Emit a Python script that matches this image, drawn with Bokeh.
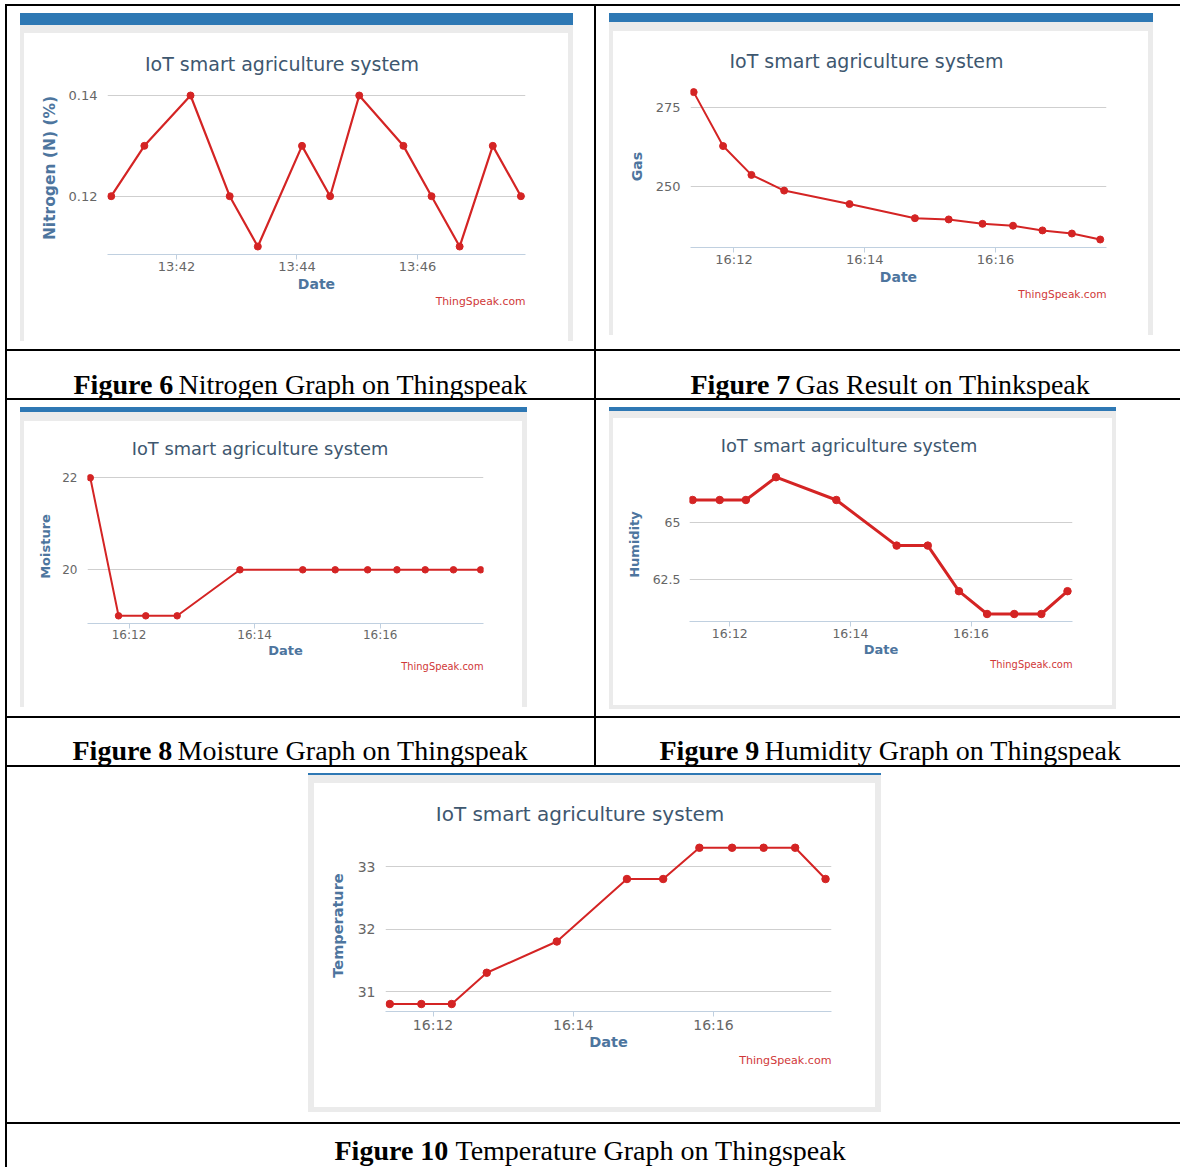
import pandas as pd
from bokeh.plotting import figure
from bokeh.models import (Label, Title, FixedTicker, DatetimeTickFormatter, Range1d,
                          CustomJSTickFormatter, Div, Spacer)
from bokeh.layouts import column, row
from bokeh.embed import file_html
from bokeh.resources import INLINE

DAY = "2019-07-10"

# ---------------- data ----------------
nitrogen_times = ["13:40:55", "13:41:28", "13:42:14", "13:42:53", "13:43:21", "13:44:05",
                  "13:44:33", "13:45:02", "13:45:46", "13:46:14", "13:46:42", "13:47:15", "13:47:43"]
nitrogen = [0.12, 0.13, 0.14, 0.12, 0.11, 0.13, 0.12, 0.14, 0.13, 0.12, 0.11, 0.13, 0.12]
nitrogen_xticks = ["13:42", "13:44", "13:46"]
nitrogen_yticks = [0.12, 0.14]

sensor_times = ["16:11:23", "16:11:50", "16:12:16", "16:12:46", "16:13:46", "16:14:46",
                "16:15:17", "16:15:48", "16:16:16", "16:16:43", "16:17:10", "16:17:36"]
sensor_xticks = ["16:12", "16:14", "16:16"]
gas = [280.0, 262.8, 253.6, 248.6, 244.3, 239.8, 239.4, 238.0, 237.4, 235.9, 234.9, 233.0]
gas_yticks = [250, 275]
moisture = [22, 19, 19, 19, 20, 20, 20, 20, 20, 20, 20, 20]
moisture_yticks = [20, 22]
humidity = [66, 66, 66, 67, 66, 64, 64, 62, 61, 61, 61, 62]
humidity_yticks = [62.5, 65]
temperature = [30.8, 30.8, 30.8, 31.3, 31.8, 32.8, 32.8, 33.3, 33.3, 33.3, 33.3, 32.8]
temperature_yticks = [31, 32, 33]

chart_title = "IoT smart agriculture system"
x_title = "Date"
credit_text = "ThingSpeak.com"
y_titles = ["Nitrogen (N) (%)", "Gas", "Moisture", "Humidity", "Temperature"]
caption_bold = ["Figure 6", "Figure 7", "Figure 8", "Figure 9", "Figure 10"]
caption_rest = ["Nitrogen Graph on Thingspeak", "Gas Result on Thinkspeak",
                "Moisture Graph on Thingspeak", "Humidity Graph on Thingspeak",
                "Temperature Graph on Thingspeak"]

# ---------------- style ----------------
FONT = "DejaVu Sans"
CAP_FONT = "Liberation Serif"
RED = "#d42424"
BLUE = "#2e78b4"
GRAY = "#ebebeb"
TITLE_C = "#3E576F"
AXT_C = "#4D759E"
TICK_C = "#666666"
CREDIT_C = "#D03838"


def ts(hms):
    return pd.Timestamp(f"{DAY} {hms}")


def ms(t):
    return t.value / 1e6


def block(w, h, color=None):
    if color is None:
        return Spacer(width=w, height=h, margin=0)
    return Div(text="", width=w, height=h, margin=0,
               styles={"background-color": color, "padding": "0", "margin": "0"})


def text_fig(w, h, labels):
    p = figure(width=w, height=h, x_range=Range1d(0, w), y_range=Range1d(h, 0),
               x_axis_location=None, y_axis_location=None, min_border=0,
               toolbar_location=None, output_backend="svg", title=None, frame_align=False,
               outline_line_color=None, background_fill_color="white",
               border_fill_color="white")
    p.xgrid.visible = False
    p.ygrid.visible = False
    for lab in labels:
        p.add_layout(lab)
    return p


def chart_fig(s, times, values, xticks, yticks, ylabel):
    wx0, wy0, wx1, sy1 = s["inner"]
    fl, ft, fr, fb = s["frame"]
    base = ts(xticks[0])
    x0 = base + pd.Timedelta(minutes=s["xr"][0])
    x1 = base + pd.Timedelta(minutes=s["xr"][1])
    p = figure(x_axis_type="datetime", output_backend="svg", toolbar_location=None, title=None,
               width=wx1 - wx0, height=sy1 - ft, frame_align=False,
               min_border_left=fl - wx0, min_border_right=wx1 - fr,
               min_border_top=0, min_border_bottom=sy1 - fb,
               x_range=Range1d(x0, x1), y_range=Range1d(*s["yr"]),
               background_fill_color="white", border_fill_color="white",
               outline_line_color=None)
    xa = p.xaxis[0]
    xa.ticker = FixedTicker(ticks=[ms(ts(t)) for t in xticks])
    xa.formatter = DatetimeTickFormatter(minutes="%H:%M", hourmin="%H:%M", hours="%H:%M",
                                         minsec="%H:%M", seconds="%H:%M")
    xa.axis_line_color = "#C0D0E0"
    xa.major_tick_line_color = "#C0D0E0"
    xa.minor_tick_line_color = None
    xa.major_tick_out = 5
    xa.major_tick_in = 0
    xa.major_label_standoff = int(s["xstand"])
    xa.major_label_text_font = FONT
    xa.major_label_text_font_size = f"{s['tick']}px"
    xa.major_label_text_color = TICK_C
    xa.axis_label = x_title
    xa.axis_label_text_font = FONT
    xa.axis_label_text_font_style = "bold"
    xa.axis_label_text_font_size = f"{s['axt']}px"
    xa.axis_label_text_color = AXT_C
    xa.axis_label_standoff = int(s["xlab"])
    ya = p.yaxis[0]
    ya.ticker = FixedTicker(ticks=yticks)
    ya.formatter = CustomJSTickFormatter(code="return tick.toString()")
    ya.axis_line_color = None
    ya.major_tick_line_color = None
    ya.minor_tick_line_color = None
    ya.major_tick_out = 0
    ya.major_tick_in = 0
    ya.major_label_standoff = int(s["ystand"])
    ya.major_label_text_font = FONT
    ya.major_label_text_font_size = f"{s['tick']}px"
    ya.major_label_text_color = TICK_C
    ya.axis_label = ylabel
    ya.axis_label_text_font = FONT
    ya.axis_label_text_font_style = "bold"
    ya.axis_label_text_font_size = f"{s.get('yaxt', s['axt'])}px"
    ya.axis_label_text_color = AXT_C
    ya.axis_label_standoff = int(s["ylab"])
    p.xgrid.grid_line_color = None
    p.ygrid.grid_line_color = "#cfcfcf"
    p.add_layout(Title(text=credit_text, align="right", vertical_align="top",
                       standoff=int(s["cstand"]), text_font=FONT,
                       text_font_size=f"{s['csz']}px", text_font_style="normal",
                       text_color=CREDIT_C), "below")
    xs = [ts(t) for t in times]
    p.line(xs, values, line_color=RED, line_width=s["lw"])
    p.scatter(xs, values, size=s["ms"], fill_color=RED, line_color=RED)
    return p


def chart_cell(s, times, values, xticks, yticks, ylabel):
    ox, oy, W, H = s["cell"]
    cx, cy = ox + 2, oy + 2
    Wc, Hc = W - 2, H - 2
    px0, px1 = s["panel_x"]
    by0, by1 = s["blue_y"]
    wx0, wy0, wx1, sy1 = s["inner"]
    fl, ft, fr, fb = s["frame"]
    gb = s["gray_bottom"]
    Wp = px1 - px0
    tx, ty, tsz = s["title"]
    tfig = text_fig(wx1 - wx0, ft - wy0, [
        Label(x=tx - wx0, y=ty - wy0, text=chart_title, text_align="center",
              text_baseline="middle", text_font=FONT, text_font_size=f"{tsz}px",
              text_color=TITLE_C)])
    cfig = chart_fig(s, times, values, xticks, yticks, ylabel)
    inner = column(tfig, cfig)
    stripes = row(block(wx0 - px0, sy1 - wy0, GRAY), inner, block(px1 - wx1, sy1 - wy0, GRAY))
    kids = [block(Wp, by1 - by0, BLUE), block(Wp, wy0 - by1, GRAY), stripes]
    if gb > 0:
        kids.append(block(Wp, gb, GRAY))
    rest = (oy + H) - (sy1 + gb)
    if rest > 0:
        kids.append(block(Wp, rest))
    panel = column(*kids)
    hrow = Hc - (by0 - cy)
    content = column(block(Wc, by0 - cy),
                     row(block(px0 - cx, hrow), panel, block(Wc - (px0 - cx) - Wp, hrow)))
    return column(block(W, 2, "black"), row(block(2, Hc, "black"), content))


def caption_cell(cell, bold, rest, xb, xr_, mid):
    ox, oy, W, H = cell
    cx, cy = ox + 2, oy + 2
    labs = [Label(x=xb - cx, y=mid - cy, text=bold, text_align="left",
                  text_baseline="middle", text_font=CAP_FONT, text_font_style="bold",
                  text_font_size="28px", text_color="black"),
            Label(x=xr_ - cx, y=mid - cy, text=rest, text_align="left",
                  text_baseline="middle", text_font=CAP_FONT, text_font_style="normal",
                  text_font_size="28px", text_color="black")]
    return column(block(W, 2, "black"), row(block(2, H - 2, "black"), text_fig(W - 2, H - 2, labs)))


S6 = dict(cell=(5, 4, 589, 345), panel_x=(20, 573), blue_y=(13, 25), inner=(24, 33, 568, 341),
          gray_bottom=0, frame=(107, 81, 525, 254),
          title=(281.5, 63, 19), csz=10.8, cstand=1, tick=13, axt=14, yaxt=15.5,
          xstand=-1, xlab=-1, ystand=10, ylab=7, lw=2.2, ms=7,
          xr=(-1.145, 5.793), yr=(0.10842, 0.14278))
S7 = dict(cell=(594, 4, 586, 345), panel_x=(609, 1153), blue_y=(13, 22), inner=(613, 31, 1148, 335),
          gray_bottom=0, frame=(690, 85, 1106, 247),
          title=(866, 60, 19), csz=10.6, cstand=0, tick=13, axt=14,
          xstand=-1, xlab=-1, ystand=10, ylab=8, lw=2, ms=7,
          xr=(-0.665, 5.696), yr=(230.45, 282.11))
S8 = dict(cell=(5, 398, 589, 318), panel_x=(20, 527), blue_y=(407, 412), inner=(24, 421, 522, 707),
          gray_bottom=0, frame=(87, 469, 483, 623),
          title=(259.5, 448.3, 17.8), csz=9.9, cstand=1, tick=12, axt=13,
          xstand=-1, xlab=-2, ystand=10, ylab=6, lw=2, ms=6.5,
          xr=(-0.661, 5.645), yr=(18.833, 22.18))
S9 = dict(cell=(594, 398, 586, 318), panel_x=(609, 1116), blue_y=(407, 411), inner=(613, 418, 1112, 705),
          gray_bottom=4, frame=(689, 467, 1072, 621),
          title=(848.5, 445, 17.8), csz=9.9, cstand=-1, tick=12.5, axt=13,
          xstand=-1, xlab=-2, ystand=9, ylab=8, lw=3, ms=7.5,
          xr=(-0.668, 5.683), yr=(60.671, 67.425))
S10 = dict(cell=(5, 765, 1175, 357), panel_x=(308, 881), blue_y=(773, 775), inner=(314, 783, 875, 1107),
           gray_bottom=5, frame=(385, 839, 831, 1011),
           title=(579.5, 813.3, 20), csz=11.1, cstand=2, tick=14, axt=14.5,
           xstand=0, xlab=-2, ystand=10, ylab=9, lw=2, ms=7.5,
           xr=(-0.678, 5.685), yr=(30.68, 33.432))

c6 = chart_cell(S6, nitrogen_times, nitrogen, nitrogen_xticks, nitrogen_yticks, y_titles[0])
c7 = chart_cell(S7, sensor_times, gas, sensor_xticks, gas_yticks, y_titles[1])
c8 = chart_cell(S8, sensor_times, moisture, sensor_xticks, moisture_yticks, y_titles[2])
c9 = chart_cell(S9, sensor_times, humidity, sensor_xticks, humidity_yticks, y_titles[3])
c10 = chart_cell(S10, sensor_times, temperature, sensor_xticks, temperature_yticks, y_titles[4])

cap6 = caption_cell((5, 349, 589, 49), caption_bold[0], caption_rest[0], 73, 178, 383.5)
cap7 = caption_cell((594, 349, 586, 49), caption_bold[1], caption_rest[1], 690, 795, 383.5)
cap8 = caption_cell((5, 716, 589, 49), caption_bold[2], caption_rest[2], 72, 177, 749.5)
cap9 = caption_cell((594, 716, 586, 49), caption_bold[3], caption_rest[3], 659, 764, 749.5)
cap10 = caption_cell((5, 1122, 1175, 45), caption_bold[4], caption_rest[4], 334, 455, 1150)

table = column(row(c6, c7), row(cap6, cap7), row(c8, c9), row(cap8, cap9), c10, cap10)
root = column(block(1180, 4), row(block(5, 1163), table))

with open("out.html", "w") as f:
    f.write(file_html(root, INLINE))
